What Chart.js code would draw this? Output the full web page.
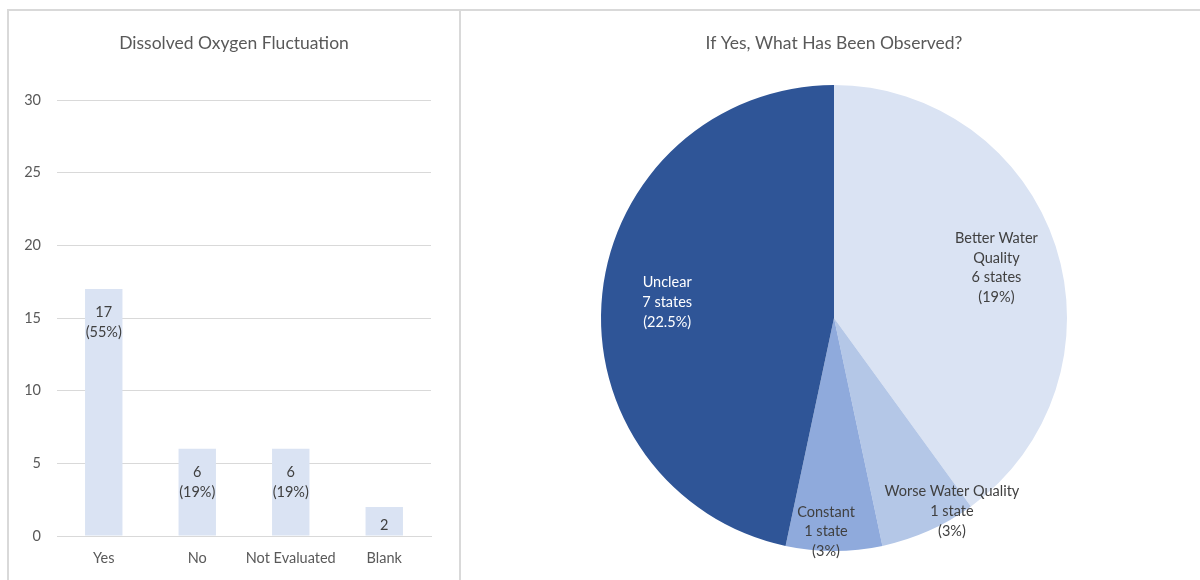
<!DOCTYPE html>
<html>
<head>
<meta charset="utf-8">
<script src="https://cdn.jsdelivr.net/npm/chart.js@4/dist/chart.umd.min.js"></script>
<style>
  html, body { margin: 0; padding: 0; background: #ffffff; }
  body { width: 1200px; height: 580px; position: relative; overflow: hidden; }
  .panel { position: absolute; box-sizing: border-box; }
  #leftPanel { left: 0; top: 0; width: 460px; height: 580px; }
  #rightPanel { left: 460px; top: 0; width: 740px; height: 580px; }
  .frame { position: absolute; background: #d9d9d9; }
  canvas { display: block; }
</style>
</head>
<body>
<div class="frame" style="left:7px; top:9px; width:1193px; height:2px;"></div>
<div class="frame" style="left:7px; top:9px; width:2px; height:571px;"></div>
<div class="frame" style="left:459px; top:9px; width:2px; height:571px;"></div>
<div class="panel" id="leftPanel"><canvas id="barChart" width="460" height="580"></canvas></div>
<div class="panel" id="rightPanel"><canvas id="pieChart" width="740" height="580"></canvas></div>
<script>
// Dissolved oxygen fluctuation responses
const barCategories = ["Yes", "No", "Not Evaluated", "Blank"];
const barValues = [17, 6, 6, 2];
const barShares = ["55%", "19%", "19%", null];
const barTicks = [0, 5, 10, 15, 20, 25, 30];

// Observed effects among "Yes" responses
const pieCategories = ["Better Water Quality", "Worse Water Quality", "Constant", "Unclear"];
const pieCounts = [6, 1, 1, 7];
const pieShares = ["19%", "3%", "3%", "22.5%"];

const FONT = "Lato, 'Open Sans', sans-serif";
const TITLE_COLOR = "#595959";
const LABEL_COLOR = "#404040";
const LABEL_SIZE = 14.5;
const TITLE_SIZE = 17.5;

// Panel heading drawn at a fixed centre above the plot
const panelTitle = {
  id: "panelTitle",
  afterDraw(chart, args, opts) {
    const ctx = chart.ctx;
    ctx.save();
    ctx.font = TITLE_SIZE + "px " + FONT;
    ctx.fillStyle = TITLE_COLOR;
    ctx.textAlign = "center";
    ctx.textBaseline = "middle";
    ctx.fillText(opts.text, opts.x, opts.y);
    ctx.restore();
  }
};

// Labels drawn inside the top end of each bar
const barValueLabels = {
  id: "barValueLabels",
  afterDatasetsDraw(chart) {
    const ctx = chart.ctx;
    const meta = chart.getDatasetMeta(0);
    ctx.save();
    ctx.font = LABEL_SIZE + "px " + FONT;
    ctx.fillStyle = LABEL_COLOR;
    ctx.textAlign = "center";
    ctx.textBaseline = "middle";
    meta.data.forEach((bar, i) => {
      const lines = [String(barValues[i])];
      if (barShares[i]) lines.push("(" + barShares[i] + ")");
      const firstY = bar.y + 13.5 + 5 * lines.length;
      lines.forEach((t, k) => ctx.fillText(t, bar.x, firstY + k * 19.7));
    });
    ctx.restore();
  }
};

// Slice labels: name (wrapped), count and share
const sliceLabels = {
  id: "sliceLabels",
  afterDatasetsDraw(chart, args, opts) {
    const ctx = chart.ctx;
    const meta = chart.getDatasetMeta(0);
    ctx.save();
    ctx.font = LABEL_SIZE + "px " + FONT;
    ctx.textAlign = "center";
    ctx.textBaseline = "middle";
    meta.data.forEach((arc, i) => {
      const place = opts.placement[i];
      const mid = (arc.startAngle + arc.endAngle) / 2;
      const r = arc.outerRadius * place.r;
      const cx = arc.x + Math.cos(mid) * r + (place.dx || 0);
      const cy = arc.y + Math.sin(mid) * r + (place.dy || 0);
      // word-wrap the category name
      const words = pieCategories[i].split(" ");
      const lines = [];
      let cur = "";
      words.forEach(w => {
        const trial = cur ? cur + " " + w : w;
        if (cur && ctx.measureText(trial).width > place.wrap) { lines.push(cur); cur = w; }
        else cur = trial;
      });
      lines.push(cur);
      const n = pieCounts[i];
      lines.push(n + (n === 1 ? " state" : " states"));
      lines.push("(" + pieShares[i] + ")");
      const lh = 19.7;
      const top = cy - (lines.length - 1) * lh / 2;
      ctx.fillStyle = opts.colors[i];
      lines.forEach((t, k) => ctx.fillText(t, cx, top + k * lh));
    });
    ctx.restore();
  }
};

new Chart(document.getElementById("barChart"), {
  type: "bar",
  data: {
    labels: barCategories,
    datasets: [{
      data: barValues,
      backgroundColor: "#dae3f3",
      borderWidth: 0,
      barPercentage: 0.4,
      categoryPercentage: 1.0
    }]
  },
  options: {
    responsive: false,
    animation: false,
    events: [],
    layout: { padding: { left: 0, right: 29, top: 100, bottom: 0 } },
    plugins: {
      legend: { display: false },
      tooltip: { enabled: false },
      title: { display: false },
      panelTitle: { text: "Dissolved Oxygen Fluctuation", x: 234, y: 43 }
    },
    scales: {
      x: {
        grid: { display: false, drawTicks: false },
        border: { display: true, color: "#d9d9d9", width: 1 },
        ticks: { color: TITLE_COLOR, font: { family: FONT, size: LABEL_SIZE }, padding: 13.5, maxRotation: 0 },
        afterFit(scale) { scale.height = 44; }
      },
      y: {
        min: 0,
        max: 30,
        afterBuildTicks(scale) { scale.ticks = barTicks.map(v => ({ value: v })); },
        grid: { color: "#d9d9d9", lineWidth: 1, drawTicks: false },
        border: { display: false },
        ticks: { color: TITLE_COLOR, font: { family: FONT, size: LABEL_SIZE }, padding: 16 },
        afterFit(scale) { scale.width = 57; }
      }
    }
  },
  plugins: [barValueLabels, panelTitle]
});

new Chart(document.getElementById("pieChart"), {
  type: "pie",
  data: {
    labels: pieCategories,
    datasets: [{
      data: pieCounts,
      backgroundColor: ["#dae3f3", "#b4c7e7", "#8faadc", "#2f5597"],
      borderWidth: 0
    }]
  },
  options: {
    responsive: false,
    animation: false,
    events: [],
    layout: { padding: { left: 8, right: 0, top: 0, bottom: 29 } },
    plugins: {
      legend: { display: false },
      tooltip: { enabled: false },
      title: {
        display: true,
        text: "If Yes, What Has Been Observed?",
        color: TITLE_COLOR,
        font: { family: FONT, size: TITLE_SIZE, weight: "normal" },
        padding: { top: 32.5, bottom: 31.5 }
      },
      sliceLabels: {
        placement: [
          { r: 0.733, wrap: 100, dy: 2.5 },
          { r: 0.97, wrap: 200, dx: 26, dy: -13 },
          { r: 0.91, wrap: 200, dx: -8, dy: 1.5 },
          { r: 0.72, wrap: 200, dy: 2 }
        ],
        colors: [LABEL_COLOR, LABEL_COLOR, LABEL_COLOR, "#ffffff"]
      }
    }
  },
  plugins: [sliceLabels]
});
</script>
</body>
</html>
